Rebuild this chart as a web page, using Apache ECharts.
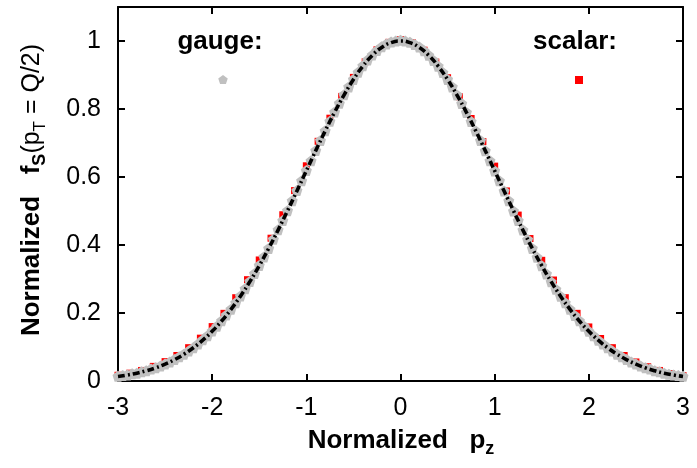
<!DOCTYPE html>
<html><head><meta charset="utf-8">
<script src="https://cdn.jsdelivr.net/npm/echarts@6/dist/echarts.min.js"></script>
<style>html,body{margin:0;padding:0;background:#fff}#c{width:697px;height:468px}</style>
</head><body><div id="c"></div>
<script>
// ---- data ----
const xTicks = [-3, -2, -1, 0, 1, 2, 3];
const yTicks = [0, 0.2, 0.4, 0.6, 0.8, 1];

const fitX = [-3.0,-2.9,-2.8,-2.7,-2.6,-2.5,-2.4,-2.3,-2.2,-2.1,-2.0,-1.9,-1.8,-1.7,-1.6,-1.5,-1.4,-1.3,-1.2,-1.1,-1.0,-0.9,-0.8,-0.7,-0.6,-0.5,-0.4,-0.3,-0.2,-0.1,0.0,0.1,0.2,0.3,0.4,0.5,0.6,0.7,0.8,0.9,1.0,1.1,1.2,1.3,1.4,1.5,1.6,1.7,1.8,1.9,2.0,2.1,2.2,2.3,2.4,2.5,2.6,2.7,2.8,2.9,3.0];
const fitY = [0.0132,0.0176,0.0231,0.0301,0.0388,0.0496,0.0628,0.0787,0.0977,0.1201,0.1463,0.1764,0.2108,0.2494,0.2922,0.3392,0.3899,0.4439,0.5006,0.5590,0.6184,0.6776,0.7353,0.7902,0.8411,0.8868,0.9260,0.9577,0.9810,0.9952,1.0000,0.9952,0.9810,0.9577,0.9260,0.8868,0.8411,0.7902,0.7353,0.6776,0.6184,0.5590,0.5006,0.4439,0.3899,0.3392,0.2922,0.2494,0.2108,0.1764,0.1463,0.1201,0.0977,0.0787,0.0628,0.0496,0.0388,0.0301,0.0231,0.0176,0.0132];

const gaugeX = [-3.00,-2.95,-2.90,-2.85,-2.80,-2.75,-2.70,-2.65,-2.60,-2.55,-2.50,-2.45,-2.40,-2.35,-2.30,-2.25,-2.20,-2.15,-2.10,-2.05,-2.00,-1.95,-1.90,-1.85,-1.80,-1.75,-1.70,-1.65,-1.60,-1.55,-1.50,-1.45,-1.40,-1.35,-1.30,-1.25,-1.20,-1.15,-1.10,-1.05,-1.00,-0.95,-0.90,-0.85,-0.80,-0.75,-0.70,-0.65,-0.60,-0.55,-0.50,-0.45,-0.40,-0.35,-0.30,-0.25,-0.20,-0.15,-0.10,-0.05,0.00,0.05,0.10,0.15,0.20,0.25,0.30,0.35,0.40,0.45,0.50,0.55,0.60,0.65,0.70,0.75,0.80,0.85,0.90,0.95,1.00,1.05,1.10,1.15,1.20,1.25,1.30,1.35,1.40,1.45,1.50,1.55,1.60,1.65,1.70,1.75,1.80,1.85,1.90,1.95,2.00,2.05,2.10,2.15,2.20,2.25,2.30,2.35,2.40,2.45,2.50,2.55,2.60,2.65,2.70,2.75,2.80,2.85,2.90,2.95,3.00];
const gaugeY = [0.014,0.016,0.018,0.021,0.023,0.027,0.030,0.035,0.039,0.044,0.050,0.056,0.063,0.071,0.079,0.088,0.098,0.109,0.121,0.133,0.147,0.161,0.177,0.194,0.211,0.230,0.250,0.271,0.293,0.316,0.340,0.365,0.390,0.417,0.445,0.472,0.501,0.530,0.560,0.589,0.619,0.648,0.678,0.707,0.736,0.764,0.791,0.817,0.842,0.865,0.887,0.908,0.927,0.944,0.959,0.972,0.983,0.991,0.997,1.000,1.002,1.000,0.996,0.990,0.982,0.971,0.958,0.943,0.926,0.907,0.887,0.865,0.841,0.816,0.790,0.763,0.735,0.707,0.677,0.648,0.618,0.589,0.559,0.530,0.500,0.472,0.444,0.416,0.390,0.364,0.339,0.315,0.292,0.270,0.249,0.230,0.211,0.193,0.177,0.161,0.146,0.133,0.120,0.109,0.098,0.088,0.079,0.071,0.063,0.056,0.050,0.044,0.039,0.035,0.030,0.027,0.023,0.020,0.018,0.016,0.014];

const scalarX = [-3.000,-2.875,-2.750,-2.625,-2.500,-2.375,-2.250,-2.125,-2.000,-1.875,-1.750,-1.625,-1.500,-1.375,-1.250,-1.125,-1.000,-0.875,-0.750,-0.625,-0.500,-0.375,-0.250,-0.125,0.000,0.125,0.250,0.375,0.500,0.625,0.750,0.875,1.000,1.125,1.250,1.375,1.500,1.625,1.750,1.875,2.000,2.125,2.250,2.375,2.500,2.625,2.750,2.875,3.000];
const scalarY = [0.017,0.023,0.031,0.043,0.057,0.075,0.098,0.126,0.160,0.199,0.245,0.298,0.356,0.420,0.489,0.560,0.633,0.705,0.773,0.837,0.893,0.939,0.974,0.996,1.004,0.995,0.973,0.938,0.892,0.836,0.772,0.704,0.632,0.559,0.488,0.419,0.355,0.297,0.245,0.199,0.159,0.125,0.098,0.075,0.056,0.042,0.031,0.022,0.016];

const legendLabels = ['gauge:', 'scalar:'];

// ---- chart ----
const FF = '"Liberation Sans", Arial, Helvetica, sans-serif';
const zip = (xs, ys) => xs.map((x, i) => [x, ys[i]]);
const pentPath = 'path://M50,0 L97.55,34.55 L79.39,90.45 L20.61,90.45 L2.45,34.55 Z';
const axisLine = { onZero: false, lineStyle: { color: '#000', width: 2 } };
const axisTick = { inside: true, length: 7, lineStyle: { color: '#000', width: 2 } };

function pentPoints(cx, cy, r) {
  const pts = [];
  for (let k = 0; k < 5; k++) {
    const a = -Math.PI / 2 + k * 2 * Math.PI / 5;
    pts.push([cx + r * Math.cos(a), cy + r * Math.sin(a)]);
  }
  return pts;
}

const chart = echarts.init(document.getElementById('c'), null, { renderer: 'canvas' });
chart.setOption({
  animation: false,
  backgroundColor: '#fff',
  grid: { left: 118, right: 14, top: 7, bottom: 87, containLabel: false },
  xAxis: [
    { type: 'value', position: 'bottom', min: xTicks[0], max: xTicks[xTicks.length - 1], interval: 1,
      axisLine, axisTick, splitLine: { show: false },
      axisLabel: { color: '#000', fontSize: 25, fontFamily: FF, margin: 15 } },
    { type: 'value', position: 'top', min: xTicks[0], max: xTicks[xTicks.length - 1], interval: 1,
      axisLine, axisTick, splitLine: { show: false }, axisLabel: { show: false } }
  ],
  yAxis: [
    { type: 'value', position: 'left', min: 0, max: 1.1, interval: 0.2,
      axisLine, axisTick, splitLine: { show: false },
      axisLabel: { color: '#000', fontSize: 25, fontFamily: FF, margin: 17, showMaxLabel: false,
        formatter: v => (yTicks.some(t => Math.abs(t - v) < 1e-9) ? String(+v.toFixed(1)) : '') } },
    { type: 'value', position: 'right', min: 0, max: 1.1, interval: 0.2,
      axisLine, axisTick, splitLine: { show: false }, axisLabel: { show: false } }
  ],
  series: [
    { name: 'scalar', type: 'scatter', data: zip(scalarX, scalarY), symbol: 'rect', symbolSize: 7,
      itemStyle: { color: '#ff0000', opacity: 1 }, z: 2, silent: true },
    { name: 'gauge', type: 'scatter', data: zip(gaugeX, gaugeY), symbol: pentPath, symbolSize: 11,
      itemStyle: { color: '#c0c0c0', opacity: 1 }, z: 3, silent: true },
    { name: 'fit', type: 'line', data: zip(fitX, fitY), smooth: true, showSymbol: false, symbol: 'none',
      lineStyle: { color: '#000', width: 3.6, type: [7, 3, 2, 3] }, z: 4, silent: true }
  ],
  graphic: [
    { type: 'text', x: 220, y: 42, style: { text: legendLabels[0], fontSize: 26, fontWeight: 'bold', fontFamily: FF, fill: '#000', align: 'center', verticalAlign: 'middle' } },
    { type: 'polygon', shape: { points: pentPoints(223, 80, 5) }, style: { fill: '#c0c0c0' } },
    { type: 'text', x: 575, y: 42, style: { text: legendLabels[1], fontSize: 26, fontWeight: 'bold', fontFamily: FF, fill: '#000', align: 'center', verticalAlign: 'middle' } },
    { type: 'rect', shape: { x: 575, y: 76, width: 8, height: 8 }, style: { fill: '#ff0000' } },
    { type: 'text', x: 401, y: 441,
      style: { text: '{b|Normalized}   {b|p}{s|z}', fontSize: 26, fontWeight: 'bold', fontFamily: FF, fill: '#000', align: 'center', verticalAlign: 'middle',
        rich: {
          b: { fontSize: 26, fontWeight: 'bold', fontFamily: FF, fill: '#000', lineHeight: 34, verticalAlign: 'middle' },
          s: { fontSize: 18, fontWeight: 'bold', fontFamily: FF, fill: '#000', lineHeight: 18, verticalAlign: 'bottom' }
        } } },
    { type: 'text', x: 32, y: 190, rotation: Math.PI / 2,
      style: { text: '{b|Normalized}   {b|f}{s|S}{r|(p}{t|T}{r| = Q/2)}', fontSize: 26, fontFamily: FF, fill: '#000', align: 'center', verticalAlign: 'middle',
        rich: {
          b: { fontSize: 26, fontWeight: 'bold', fontFamily: FF, fill: '#000', lineHeight: 34, verticalAlign: 'middle' },
          s: { fontSize: 18, fontWeight: 'bold', fontFamily: FF, fill: '#000', lineHeight: 18, verticalAlign: 'bottom' },
          r: { fontSize: 25, fontFamily: FF, fill: '#000', lineHeight: 34, verticalAlign: 'middle' },
          t: { fontSize: 17, fontFamily: FF, fill: '#000', lineHeight: 17, verticalAlign: 'bottom' }
        } } }
  ]
});
</script>
</body></html>
